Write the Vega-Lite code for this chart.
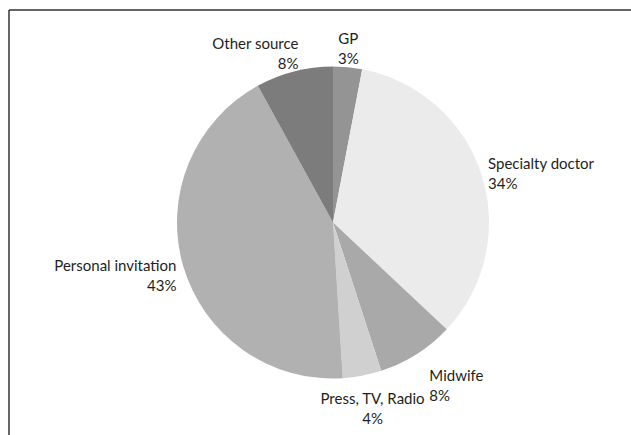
{
  "$schema": "https://vega.github.io/schema/vega-lite/v6.json",
  "width": 648,
  "height": 425,
  "autosize": "none",
  "padding": {"left": 9, "top": 10, "right": -26, "bottom": 0},
  "background": "white",
  "datasets": {
    "sources": [
      {"rank": 1, "source": "GP", "share": 3},
      {"rank": 2, "source": "Specialty doctor", "share": 34},
      {"rank": 3, "source": "Midwife", "share": 8},
      {"rank": 4, "source": "Press, TV, Radio", "share": 4},
      {"rank": 5, "source": "Personal invitation", "share": 43},
      {"rank": 6, "source": "Other source", "share": 8}
    ],
    "frame": [{"edge": "frame"}]
  },
  "layer": [
    {
      "data": {"name": "frame"},
      "mark": {"type": "rule", "stroke": "#333333", "strokeWidth": 1.5},
      "encoding": {"y": {"value": 0}}
    },
    {
      "data": {"name": "frame"},
      "mark": {"type": "rule", "stroke": "#333333", "strokeWidth": 1.5},
      "encoding": {"x": {"value": 0}}
    },
    {
      "data": {"name": "sources"},
      "mark": {"type": "arc", "radius": 156},
      "encoding": {
        "theta": {"field": "share", "type": "quantitative", "stack": true},
        "order": {"field": "rank", "type": "quantitative"},
        "color": {
          "field": "source",
          "type": "nominal",
          "scale": {
            "domain": ["GP", "Specialty doctor", "Midwife", "Press, TV, Radio", "Personal invitation", "Other source"],
            "range": ["#949494", "#ebebeb", "#a9a9a9", "#d0d0d0", "#b1b1b1", "#7c7c7c"]
          },
          "legend": null
        }
      }
    },
    {
      "data": {"name": "sources"},
      "transform": [{"calculate": "[datum.source, datum.share + '%']", "as": "label"}],
      "mark": {
        "type": "text",
        "radius": 163,
        "font": "Lato",
        "fontSize": 15,
        "lineHeight": 20,
        "baseline": "middle",
        "color": "#231f20",
        "align": {"expr": "(datum.share_start + datum.share_end) / 2 < 10 ? 'center' : (datum.share_start + datum.share_end) / 2 < 45 ? 'left' : (datum.share_start + datum.share_end) / 2 < 50 ? 'center' : 'right'"},
        "dx": {"expr": "(datum.share_start + datum.share_end) / 2 > 35 && (datum.share_start + datum.share_end) / 2 < 60 ? 9 : (datum.share_start + datum.share_end) / 2 > 85 ? 6 : 0"},
        "dy": {"expr": "cos(PI * (datum.share_start + datum.share_end) / 100) < -0.5 ? 16 : cos(PI * (datum.share_start + datum.share_end) / 100) > 0.5 ? -21 : -5 - 10 * cos(PI * (datum.share_start + datum.share_end) / 100)"}
      },
      "encoding": {
        "theta": {"field": "share", "type": "quantitative", "stack": true},
        "order": {"field": "rank", "type": "quantitative"},
        "text": {"field": "label"}
      }
    }
  ],
  "config": {
    "view": {"stroke": "transparent", "fill": "transparent"},
    "style": {"cell": {"stroke": "transparent"}}
  }
}
